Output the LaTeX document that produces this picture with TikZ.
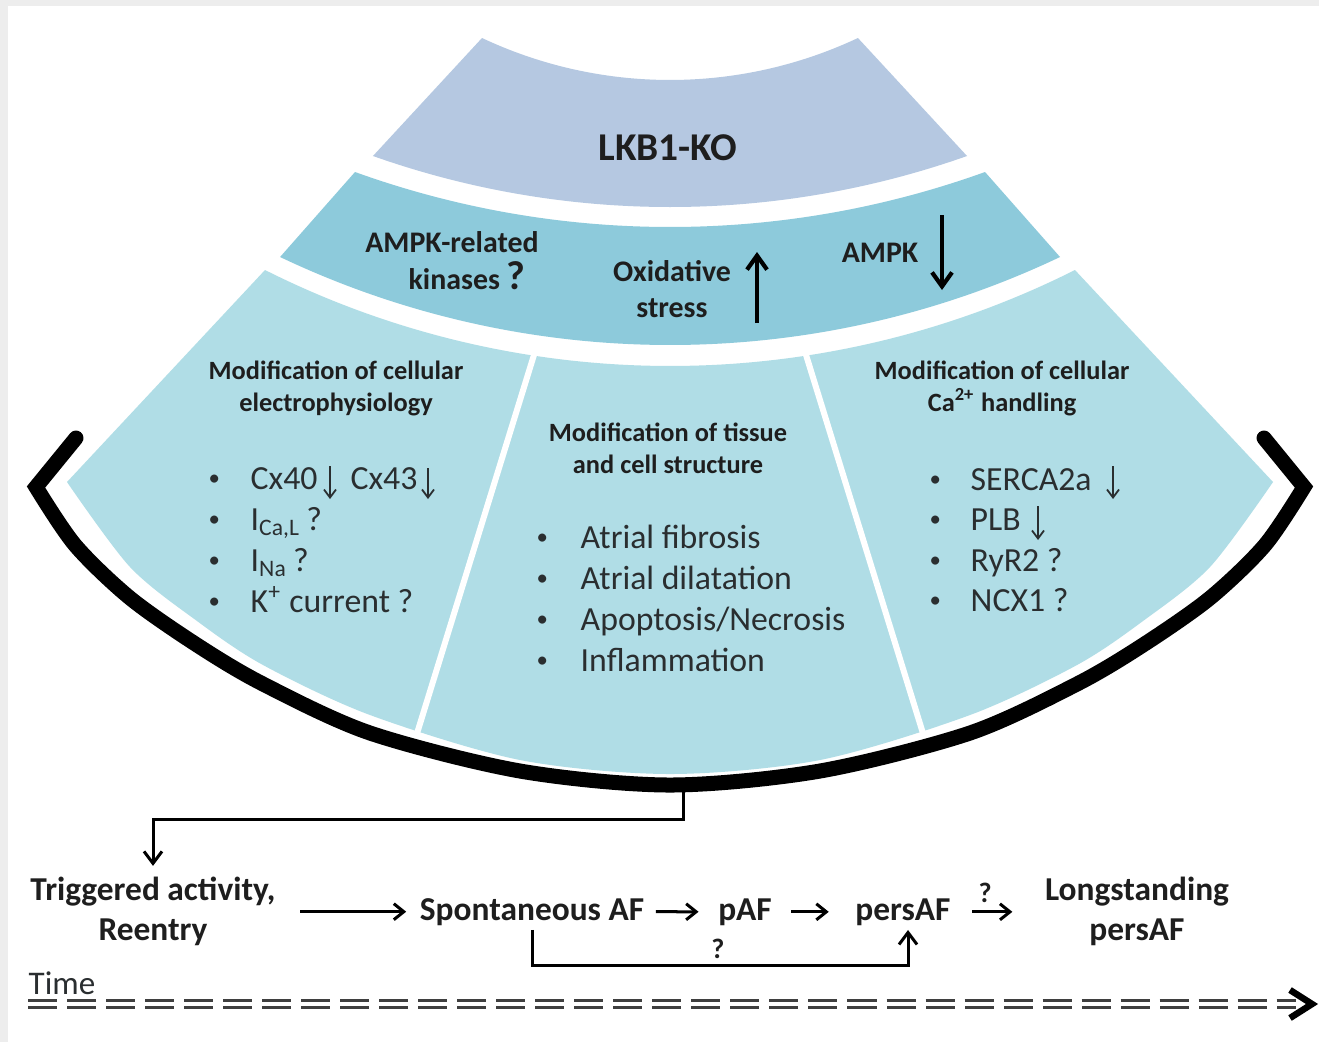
\documentclass[tikz,border=0pt]{standalone}
\usepackage{fontspec}
\setmainfont{Carlito}
\usetikzlibrary{arrows.meta}
\definecolor{bandA}{HTML}{B5C8E1}
\definecolor{bandB}{HTML}{8DCADB}
\definecolor{bandC}{HTML}{B0DDE6}
\definecolor{ink}{HTML}{1E1E1E}
\definecolor{listink}{HTML}{2A2E30}
\definecolor{dashgray}{HTML}{3F3F3F}
\definecolor{framegray}{HTML}{EDEDED}
\newcommand\fsz[2]{\fontsize{#1}{#2}\selectfont}
\newcommand\bul[1]{\makebox[#1][l]{\raisebox{1.1pt}{\fsz{6.5}{7}\textbullet}}}
\begin{document}
\begin{tikzpicture}[x=0.01cm, y=-0.01cm,
  txt/.style={inner sep=0pt, text=ink},
  bandtitle/.style={txt, font=\bfseries\fsz{11.2}{13}},
  bandlbl/.style={txt, font=\bfseries\fsz{8.5}{10.4}, align=center},
  heading/.style={txt, font=\bfseries\fsz{7.5}{9.1}, align=center},
  item/.style={txt, text=listink, font=\fsz{9.6}{11}, anchor=base west},
  flow/.style={txt, font=\bfseries\fsz{9.5}{11.4}, align=center},
  qmark/.style={txt, font=\bfseries\fsz{8}{9}},
  conn/.style={draw=black, line width=0.03cm, line join=miter,
    -{Straight Barb[length=0.12cm,width=0.18cm]}},
  flowarr/.style={draw=black, line width=0.03cm,
    -{Straight Barb[length=0.1cm,width=0.16cm]}},
  bigarr/.style={draw=black, line width=0.042cm,
    -{Straight Barb[length=0.14cm,width=0.2cm]}},
  listarr/.style={draw=listink, line width=0.018cm,
    -{Straight Barb[length=0.08cm,width=0.12cm]}},
  divider/.style={draw=white, line width=0.06cm},
  bracket/.style={draw=black, line width=0.15cm, line cap=round, line join=miter},
  timeline/.style={draw=dashgray, line width=0.032cm, double=white,
    double distance=0.035cm, dash pattern=on 0.29cm off 0.1cm},
]
\useasboundingbox (0,0) rectangle (1319,1042);
% page with a thin grey frame on the top and left
\fill[framegray] (0,0) rectangle (1319,1042);
\fill[white] (8,6) rectangle (1319,1042);

% ---- the three bands of the fan ----
\fill[bandA] (482,38) arc[start angle=115.18, end angle=64.82, radius=441.8]
  -- (967,156) arc[start angle=70.51, end angle=109.49, radius=890.3] -- cycle;
\fill[bandB] (355,172) arc[start angle=109.81, end angle=70.19, radius=929.5]
  -- (1060,257) arc[start angle=64.57, end angle=115.43, radius=908.2] -- cycle;
\fill[bandC] (265,270) arc[start angle=116.67, end angle=63.33, radius=902.3]
  -- (1273,482) -- plot[smooth] coordinates {(1273,482) (1210,567) (1143,621)
  (1077,665) (970,715) (820,760) (670,774) (520,760) (370,715) (263,665)
  (197,621) (130,567) (67,482)} -- cycle;
% white dividers between the three columns
\draw[divider] (535.5,350) -- (416.5,735);
\draw[divider] (804.5,350) -- (923.5,735);

% black bracket under the fan
\draw[bracket] (76,438) -- plot[smooth] coordinates {(36,487) (75,545) (130,598)
  (197,645) (263,684) (370,733) (520,771) (670,785) (820,771) (970,733)
  (1077,684) (1143,645) (1210,598) (1265,545) (1304,487)}
  -- (1264,438);

% ---- band texts ----
\node[bandtitle] (lkb) at (668,148) {LKB1-KO};
\node[bandlbl, anchor=base] (amprel) at (452,252) {AMPK-related};
\node[bandlbl, anchor=base] (kin) at (467,289) {kinases {\fsz{11.5}{12}?}};
\node[bandlbl] (oxi) at (672,289) {Oxidative\\stress};
\node[bandlbl, anchor=base] (ampk) at (880,262) {AMPK};
\draw[bigarr] (757,323) -- (757,252);
\draw[bigarr] (942,215) -- (942,290);

% ---- column headings ----
\node[heading] (hel) at (336,388) {Modification of cellular\\electrophysiology};
\node[heading] (hts) at (668,448) {Modification of tissue\\and cell structure};
\node[heading] (hca) at (1002,388) {Modification of cellular\\Ca\textsuperscript{2+} handling};

% ---- left column ----
\node[item] (el1) at (208,489) {\bul{0.42cm}Cx40\hspace{0.33cm}Cx43};
\node[item] (el2) at (208,530) {\bul{0.42cm}I\textsubscript{Ca,L}\,?};
\node[item] (el3) at (208,571) {\bul{0.42cm}I\textsubscript{Na}\,?};
\node[item] (el4) at (208,612) {\bul{0.42cm}K\textsuperscript{+} current ?};
\draw[listarr] (330,466) -- (330,499);
\draw[listarr] (428,468) -- (428,499);

% ---- middle column ----
\node[item] (ts1) at (536,548) {\bul{0.44cm}Atrial fibrosis};
\node[item] (ts2) at (536,589) {\bul{0.44cm}Atrial dilatation};
\node[item] (ts3) at (536,630) {\bul{0.44cm}Apoptosis/Necrosis};
\node[item] (ts4) at (536,671) {\bul{0.44cm}Inflammation};

% ---- right column ----
\node[item] (ca1) at (929,490) {\bul{0.41cm}SERCA2a};
\node[item] (ca2) at (929,530) {\bul{0.41cm}PLB};
\node[item] (ca3) at (929,571) {\bul{0.41cm}RyR2 ?};
\node[item] (ca4) at (929,611) {\bul{0.41cm}NCX1 ?};
\draw[listarr] (1113,466) -- (1113,499);
\draw[listarr] (1038,506) -- (1038,540);

% ---- progression over time ----
\node[flow] (trig) at (153,911) {Triggered activity,\\Reentry};
\node[flow, anchor=base] (spont) at (532,920) {Spontaneous AF};
\node[flow, anchor=base] (paf) at (745,920) {pAF};
\node[flow, anchor=base] (pers) at (903,920) {persAF};
\node[flow] (longp) at (1137,911) {Longstanding\\persAF};
\node[qmark] (q1) at (985,893) {?};
\node[qmark] (q2) at (718,949) {?};

\coordinate (fanout) at (683,788);
\coordinate (elbow) at (683,819);
\draw[conn, shorten >=0.1cm] (fanout) -- (elbow) -| (trig.north);

\draw[flowarr, shorten <=0.24cm, shorten >=0.13cm] (trig.east |- spont.west) -- (spont.west);
\draw[flowarr, shorten <=0.11cm, shorten >=0.19cm] (spont.east) -- (paf.west);
\draw[flowarr, shorten <=0.19cm, shorten >=0.26cm] (paf.east) -- (pers.west);
\draw[flowarr, shorten <=0.21cm, shorten >=0.32cm] (pers.east) -- (longp.west |- pers.east);

\coordinate (qbar) at (718,965);
\draw[conn, shorten <=0.04cm, shorten >=0.04cm] (spont.south) |- (qbar) -| ([xshift=0.05cm]pers.south);

% time axis
\node[txt, text=listink, font=\fsz{9.4}{11}] (time) at (62,983) {Time};
\coordinate (tstart) at (28,1004);
\coordinate (tend) at (1296,1004);
\draw[timeline] (tstart) -- (tend);
\draw[line width=0.065cm, line join=miter] (1290,990) -- (1312,1004) -- (1290,1018);
\end{tikzpicture}
\end{document}
